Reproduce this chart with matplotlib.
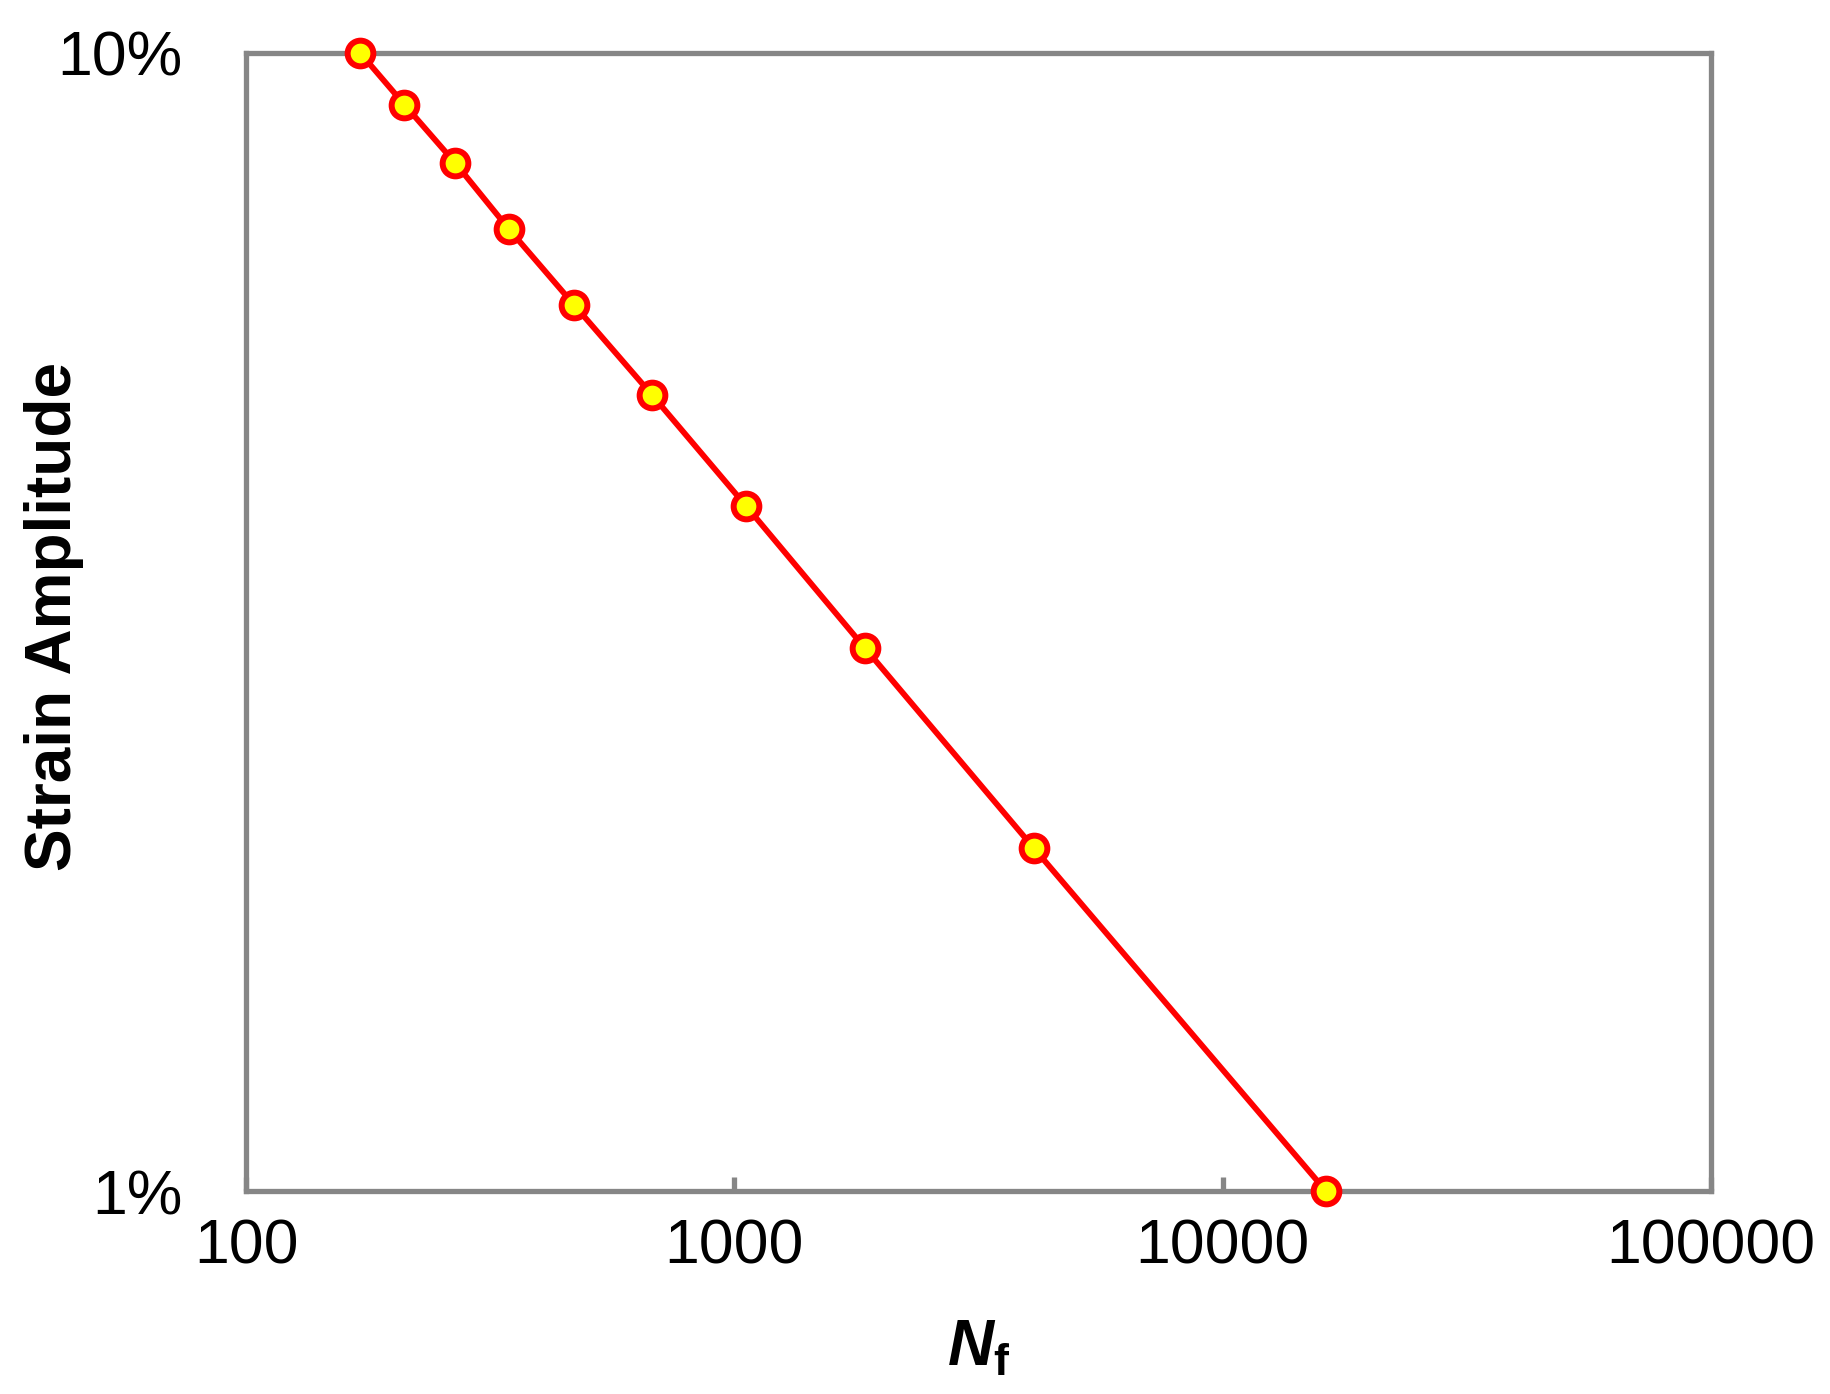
import numpy as np
import matplotlib
matplotlib.use("Agg")
import matplotlib.pyplot as plt
from matplotlib.ticker import FixedLocator, FixedFormatter, NullLocator

plt.rcParams['font.family'] = ['Liberation Sans', 'DejaVu Sans']
plt.rcParams['mathtext.fontset'] = 'custom'
plt.rcParams['mathtext.rm'] = 'Liberation Sans'
plt.rcParams['mathtext.it'] = 'Liberation Sans:italic:bold'
plt.rcParams['mathtext.bf'] = 'Liberation Sans:bold'

# data: cycles to failure vs strain amplitude
cycles = [171, 211, 268, 345, 470, 679, 1055, 1849, 4107, 16270]
strain = [0.10, 0.09, 0.08, 0.07, 0.06, 0.05, 0.04, 0.03, 0.02, 0.01]

x_ticks = [100, 1000, 10000, 100000]
x_labels = ['100', '1000', '10000', '100000']
y_ticks = [0.01, 0.10]
y_labels = ['1%', '10%']

grey = '#868686'

fig = plt.figure(figsize=(18.31, 13.94), dpi=100)
ax = fig.add_axes([0.1344, 0.1456, 0.8001, 0.8167])

ax.plot(cycles, strain, color='#ff0000', lw=4.2, marker='o', ms=18.5,
        mfc='#ffff00', mec='#ff0000', mew=4.3, clip_on=False, zorder=5)

ax.set_xscale('log')
ax.set_yscale('log')
ax.set_xlim(100, 100000)
ax.set_ylim(0.01, 0.10)

ax.xaxis.set_major_locator(FixedLocator(x_ticks))
ax.xaxis.set_major_formatter(FixedFormatter(x_labels))
ax.xaxis.set_minor_locator(NullLocator())
ax.yaxis.set_major_locator(FixedLocator(y_ticks))
ax.yaxis.set_major_formatter(FixedFormatter(y_labels))
ax.yaxis.set_minor_locator(NullLocator())

for s in ax.spines.values():
    s.set_color(grey)
    s.set_linewidth(3.8)

ax.tick_params(axis='x', direction='in', length=10, width=3.8, color=grey,
               labelsize=45, pad=19)
ax.tick_params(axis='y', direction='in', length=0, width=3.8, color=grey,
               labelsize=45, pad=46)

ax.set_ylabel('Strain Amplitude', fontsize=46, fontweight='bold')
ax.yaxis.label.set_va('center')
ax.yaxis.set_label_coords(-0.131, 0.505)

ax.set_xlabel(r'$\mathit{N}_{\mathbf{f}}$', fontsize=46)
ax.xaxis.label.set_va('center')
ax.xaxis.set_label_coords(0.5, -0.139)

fig.savefig('out.png', dpi=100)
